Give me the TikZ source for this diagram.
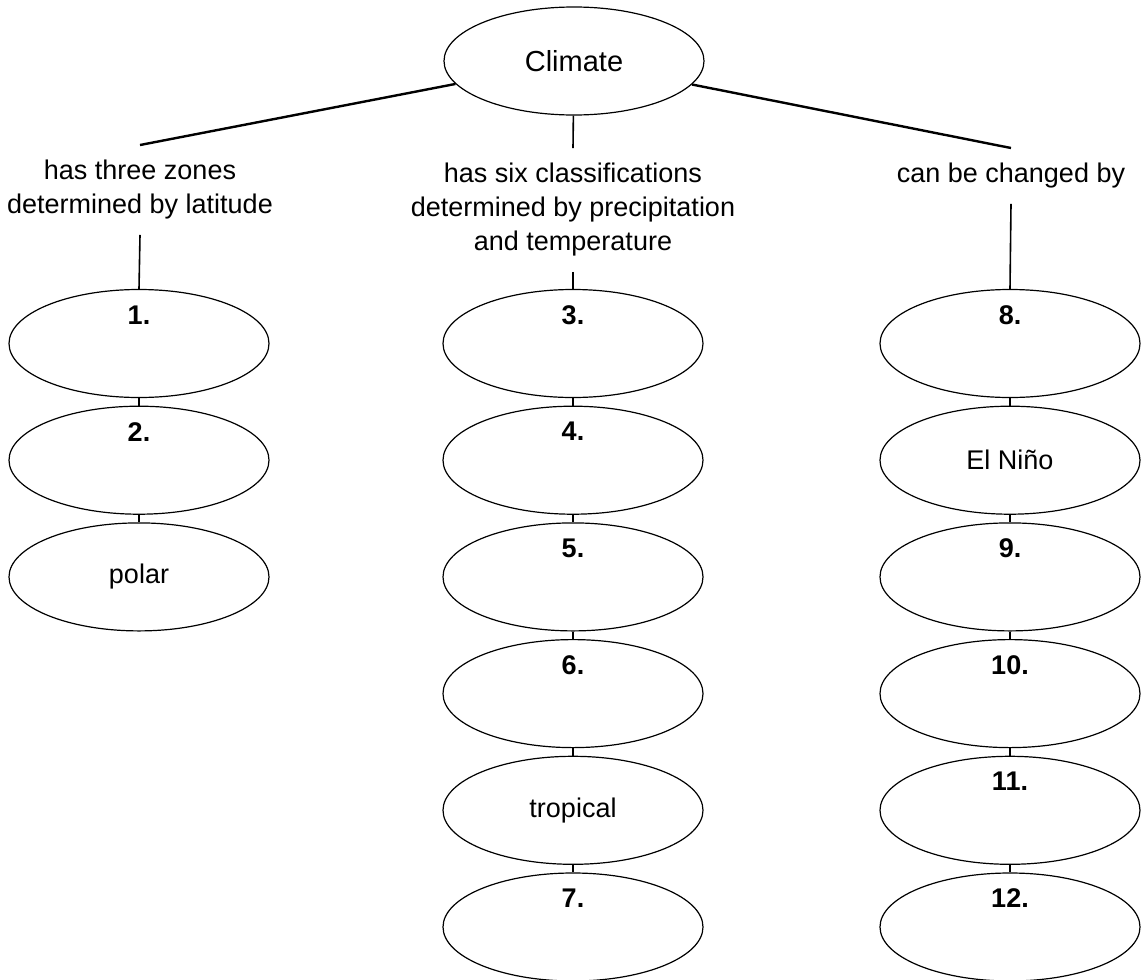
\documentclass[tikz,border=0pt]{standalone}
\usepackage{fontspec}
\setmainfont{Liberation Sans}
\usetikzlibrary{shapes.geometric}
\newcommand{\mapfont}{\fontsize{13.5}{17}\selectfont}

\begin{document}
\begin{tikzpicture}[x=0.5pt, y=-0.5pt, font=\mapfont,
    blob/.style={draw, ellipse, line width=0.6pt, minimum width=130pt, minimum height=54pt, inner sep=0pt},
    numbered/.style={label={[anchor=center, yshift=-13pt, font=\mapfont\bfseries]north:#1}},
    link/.style={align=center, inner ysep=7.5pt, inner xsep=0pt},
    stem/.style={line width=0.8pt},
    branch/.style={line width=1.2pt}]
  \useasboundingbox (0,0) rectangle (1141,980);
  \node[blob, font=\fontsize{14.5}{17}\selectfont] (climate) at (574,61) {Climate};
  \node[link] (zones) at (140,190) {has three zones\\determined by latitude};
  \node[link] (classes) at (573,210) {has six classifications\\determined by precipitation\\and temperature};
  \node[link] (changes) at (1011,176) {can be changed by};
  \node[blob, numbered=1.] (z1) at (139,343.5) {};
  \node[blob, numbered=2.] (z2) at (139,460.2) {};
  \node[blob] (z3) at (139,576.9) {polar};
  \node[blob, numbered=3.] (c1) at (573,343.5) {};
  \node[blob, numbered=4.] (c2) at (573,460.2) {};
  \node[blob, numbered=5.] (c3) at (573,576.9) {};
  \node[blob, numbered=6.] (c4) at (573,693.6) {};
  \node[blob] (c5) at (573,810.3) {tropical};
  \node[blob, numbered=7.] (c6) at (573,927) {};
  \node[blob, numbered=8.] (r1) at (1010,343.5) {};
  \node[blob] (r2) at (1010,460.2) {El Niño};
  \node[blob, numbered=9.] (r3) at (1010,576.9) {};
  \node[blob, numbered=10.] (r4) at (1010,693.6) {};
  \node[blob, numbered=11.] (r5) at (1010,810.3) {};
  \node[blob, numbered=12.] (r6) at (1010,927) {};
  \draw[branch] (climate) -- (zones.north);
  \draw[branch] (climate) -- (changes.north);
  \draw[stem] (climate) -- (classes.north);
  \draw[stem] (zones.south) -- (z1.north);
  \draw[stem] (classes.south) -- (c1.north);
  \draw[stem] (changes.south) -- (r1.north);
  \draw[stem] (z1) -- (z2);
  \draw[stem] (z2) -- (z3);
  \draw[stem] (c1) -- (c2);
  \draw[stem] (c2) -- (c3);
  \draw[stem] (c3) -- (c4);
  \draw[stem] (c4) -- (c5);
  \draw[stem] (c5) -- (c6);
  \draw[stem] (r1) -- (r2);
  \draw[stem] (r2) -- (r3);
  \draw[stem] (r3) -- (r4);
  \draw[stem] (r4) -- (r5);
  \draw[stem] (r5) -- (r6);
\end{tikzpicture}
\end{document}
